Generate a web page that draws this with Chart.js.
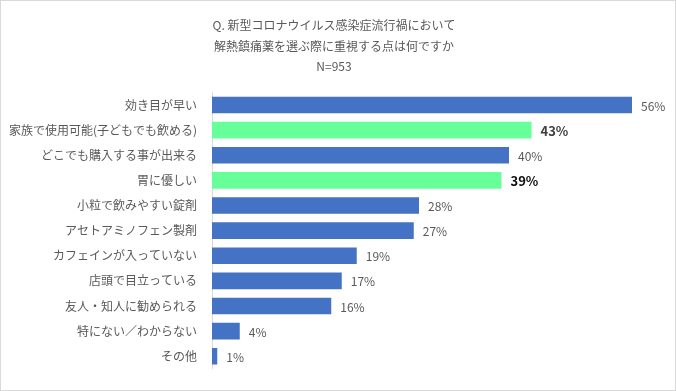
<!DOCTYPE html>
<html>
<head>
<meta charset="utf-8">
<script src="https://cdn.jsdelivr.net/npm/chart.js@4"></script>
<style>
  html, body { margin: 0; padding: 0; background: #fff; }
  #wrap { position: relative; width: 676px; height: 391px; }
</style>
</head>
<body>
<div id="wrap"><canvas id="grafico" width="676" height="391"></canvas></div>
<script>
// datos
var categorias = [
    "効き目が早い",
    "家族で使用可能(子どもでも飲める)",
    "どこでも購入する事が出来る",
    "胃に優しい",
    "小粒で飲みやすい錠剤",
    "アセトアミノフェン製剤",
    "カフェインが入っていない",
    "店頭で目立っている",
    "友人・知人に勧められる",
    "特にない／わからない",
    "その他"
];
var valores = [56.0, 42.6, 39.6, 38.6, 27.6, 26.9, 19.3, 17.3, 15.9, 3.7, 0.7];
var destacados = [1, 3]; // barras verdes
var titulo = ["Q. 新型コロナウイルス感染症流行禍において", "解熱鎮痛薬を選ぶ際に重視する点は何ですか", "N=953"];

var fuente = "'Noto Sans CJK JP', 'Noto Sans', sans-serif";
var azul = "#4472C4";
var verde = "#66FF99";

var colores = valores.map(function (v, i) {
    return destacados.indexOf(i) >= 0 ? verde : azul;
});

// etiquetas de porcentaje al final de cada barra
var etiquetas = {
    id: "etiquetas",
    afterDatasetsDraw: function (chart) {
        var ctx = chart.ctx;
        var meta = chart.getDatasetMeta(0);
        ctx.save();
        ctx.textBaseline = "middle";
        ctx.textAlign = "left";
        meta.data.forEach(function (bar, i) {
            var d = destacados.indexOf(i);
            if (d >= 0) {
                ctx.font = "bold 13px " + fuente;
                ctx.fillStyle = d === 0 ? "#404040" : "#0d0d0d";
            } else {
                ctx.font = "12px " + fuente;
                ctx.fillStyle = "#595959";
            }
            ctx.fillText(Math.round(valores[i]) + "%", bar.x + 9, bar.y + 1);
        });
        ctx.restore();
    }
};

// borde del recuadro
var borde = {
    id: "borde",
    afterDraw: function (chart) {
        var ctx = chart.ctx;
        ctx.save();
        ctx.strokeStyle = "#d9d9d9";
        ctx.lineWidth = 1;
        ctx.strokeRect(0.5, 0.5, chart.width - 1, chart.height - 1);
        ctx.restore();
    }
};

var ctx = document.getElementById("grafico").getContext("2d");
window.myChart = new Chart(ctx, {
    type: "bar",
    data: {
        labels: categorias,
        datasets: [{
            data: valores,
            backgroundColor: colores,
            borderWidth: 0,
            barPercentage: 0.66,
            categoryPercentage: 1
        }]
    },
    options: {
        indexAxis: "y",
        responsive: false,
        animation: false,
        devicePixelRatio: 1,
        layout: {
            padding: { left: 6, right: 14, top: 0, bottom: 15.6 }
        },
        plugins: {
            legend: { display: false },
            tooltip: { enabled: false },
            title: {
                display: true,
                text: titulo,
                color: "#595959",
                font: { family: fuente, size: 12, lineHeight: "20.3px", weight: "normal" },
                padding: { top: 15.5, bottom: 16 }
            }
        },
        scales: {
            x: {
                display: false,
                min: 0,
                max: 60
            },
            y: {
                grid: { display: false, drawTicks: false },
                border: { display: true, color: "#d9d9d9", width: 1 },
                ticks: {
                    color: "#595959",
                    padding: 15,
                    autoSkip: false,
                    font: { family: fuente, size: 12 }
                },
                afterFit: function (scale) {
                    scale.width = 206;
                }
            }
        }
    },
    plugins: [etiquetas, borde]
});
</script>
</body>
</html>
